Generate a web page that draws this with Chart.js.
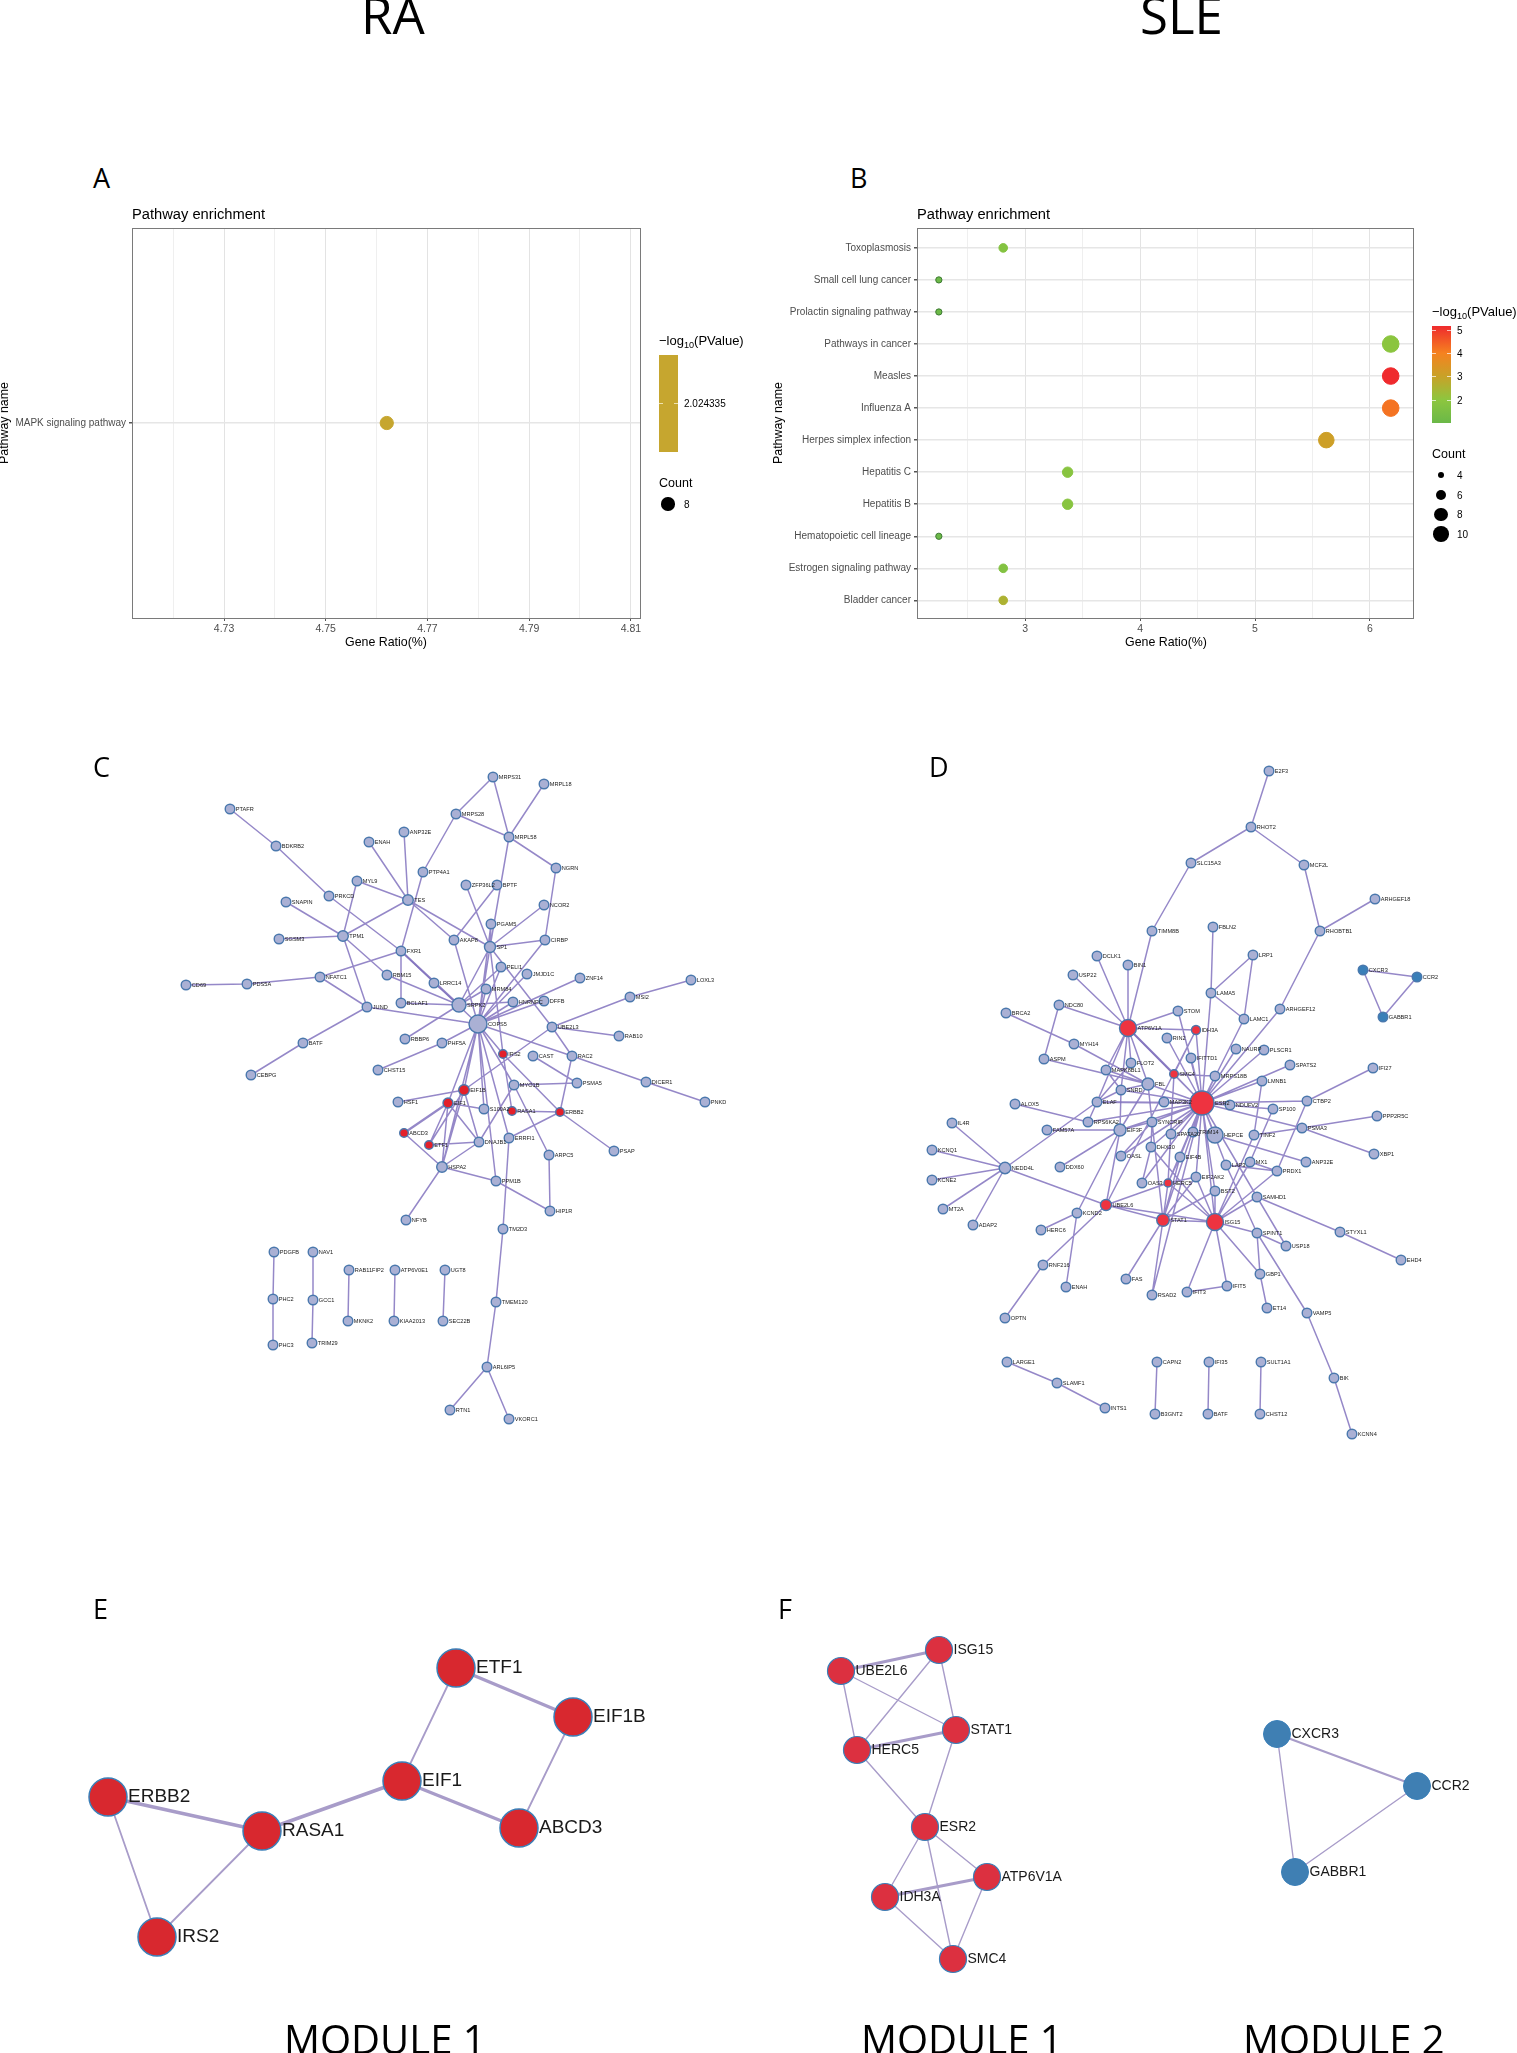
<!DOCTYPE html>
<html>
<head>
<meta charset="utf-8">
<title>RA / SLE</title>
<script src="https://cdn.jsdelivr.net/npm/chart.js@4/dist/chart.umd.min.js"></script>
<style>
  html, body { margin: 0; padding: 0; background: #fff; }
  #page { position: relative; width: 1517px; height: 2053px; overflow: hidden; font-family: "Liberation Sans", Arial, sans-serif; }
  #page canvas { position: absolute; }
  .txt { position: absolute; white-space: nowrap; transform: translateY(-50%); color: #000; }
  .big { font-family: "Open Sans", sans-serif; }
  sub { font-size: 70%; line-height: 0; }
</style>
</head>
<body>
<div id="page">
  <canvas id="chartA" width="660" height="470" style="left:0;top:200px"></canvas>
  <canvas id="chartB" width="740" height="470" style="left:700px;top:200px"></canvas>
  <canvas id="network" width="1517" height="1333" style="left:0;top:720px"></canvas>
</div>
<script>
// ---------- panel A ----------
const aPathways = ['MAPK signaling pathway'];
const aRatio = [4.762];
const aCount = [8];
const aLogP = [2.024335];
const aXTicks = [4.72, 4.73, 4.74, 4.75, 4.76, 4.77, 4.78, 4.79, 4.80, 4.81];
const aXLabels = [4.73, 4.75, 4.77, 4.79, 4.81];

// ---------- panel B ----------
const bPathways = ['Bladder cancer', 'Estrogen signaling pathway', 'Hematopoietic cell lineage', 'Hepatitis B', 'Hepatitis C',
  'Herpes simplex infection', 'Influenza A', 'Measles', 'Pathways in cancer', 'Prolactin signaling pathway',
  'Small cell lung cancer', 'Toxoplasmosis'];
const bRatio = [2.81, 2.81, 2.25, 3.37, 3.37, 5.62, 6.18, 6.18, 6.18, 2.25, 2.25, 2.81];
const bCount = [5, 5, 4, 6, 6, 10, 11, 11, 11, 4, 4, 5];
const bLogP = [2.55, 1.7, 1.05, 1.85, 1.85, 3.1, 4.2, 5.17, 1.95, 1.05, 1.05, 1.75];
const bXTicks = [2.5, 3, 3.5, 4, 4.5, 5, 5.5, 6];
const bXLabels = [3, 4, 5, 6];
const bLegendTicks = [5, 4, 3, 2];
const bLegendCounts = [4, 6, 8, 10];

// ---------- network C (name, layout x, layout y) ----------
const cNodes = [
  ['MRPS31',493,777],['MRPL18',544,784],['PTAFR',230,809],['MRPS28',456,814],['ANP32E',404,832],['MRPL58',509,837],
  ['ENAH',369,842],['BDKRB2',276,846],['NGRN',556,868],['PTP4A1',423,872],['MYL9',357,881],['ZFP36L2',466,885],
  ['BPTF',497,885],['PRKCD',329,896],['TES',408,900],['SNAPIN',286,902],['NCOR2',544,905],['PGAM5',491,924],
  ['TPM1',343,936],['SGSM3',279,939],['AKAP8',454,940],['SP1',490,947],['CIRBP',545,940],['FXR1',401,951],
  ['PELI1',501,967],['JMJD1C',527,974],['RBM15',387,975],['NFATC1',320,977],['LRRC14',434,983],['CD69',186,985],
  ['PDS5A',247,984],['MRM84',486,989],['BCLAF1',401,1003],['SRPK2',459,1005],['HNRNPC',513,1002],['DFFB',544,1001],
  ['JUND',367,1007],['COPS5',478,1024],['UBE2L3',552,1027],['RBBP6',405,1039],['PHF5A',442,1043],['BATF',303,1043],
  ['IRS2',503,1054],['CAST',533,1056],['CHST15',378,1070],['CEBPG',251,1075],['ZNF14',580,978],['LOXL3',691,980],
  ['MSI2',630,997],['RAB10',619,1036],['RAC2',572,1056],['MYO1B',514,1085],['PSMA5',577,1083],['DICER1',646,1082],
  ['EIF1B',464,1090],['HSF1',398,1102],['PNKD',705,1102],['EIF1',448,1103],['S100A2',484,1109],['RASA1',512,1111],
  ['ERBB2',560,1112],['ABCD3',404,1133],['ETF1',429,1145],['DNAJB1',479,1142],['ERRFI1',509,1138],['ARPC5',549,1155],
  ['PSAP',614,1151],['HSPA2',442,1167],['PPM1B',496,1181],['HIP1R',550,1211],['NFYB',406,1220],['TM2D3',503,1229],
  ['PDGFB',274,1252],['NAV1',313,1252],['RAB11FIP2',349,1270],['ATP6V0E1',395,1270],['UGT8',445,1270],['PHC2',273,1299],
  ['GCC1',313,1300],['TMEM120',496,1302],['MKNK2',348,1321],['KIAA2013',394,1321],['SEC22B',443,1321],['PHC3',273,1345],
  ['TRIM29',312,1343],['ARL6IP5',487,1367],['RTN1',450,1410],['VKORC1',509,1419]
];
const cEdges = ('MRPS31-MRPS28 MRPS31-MRPL58 MRPL18-MRPL58 MRPS28-MRPL58 MRPS28-PTP4A1 MRPL58-NGRN MRPL58-SP1 PTAFR-BDKRB2 ' +
  'BDKRB2-PRKCD PRKCD-FXR1 ANP32E-TES ENAH-TES MYL9-TES MYL9-TPM1 PTP4A1-FXR1 TES-TPM1 TES-AKAP8 TES-SP1 SNAPIN-TPM1 SGSM3-TPM1 ' +
  'TPM1-RBM15 TPM1-JUND RBM15-SRPK2 FXR1-NFATC1 FXR1-BCLAF1 FXR1-SRPK2 FXR1-COPS5 LRRC14-SRPK2 NFATC1-PDS5A PDS5A-CD69 NFATC1-JUND ' +
  'JUND-COPS5 JUND-BATF BATF-CEBPG BCLAF1-SRPK2 SRPK2-RBBP6 ZFP36L2-SP1 BPTF-AKAP8 NCOR2-SP1 NGRN-CIRBP PGAM5-SP1 PGAM5-COPS5 SP1-CIRBP ' +
  'SP1-SRPK2 SP1-COPS5 AKAP8-COPS5 CIRBP-COPS5 PELI1-SRPK2 PELI1-COPS5 JMJD1C-COPS5 MRM84-SRPK2 MRM84-COPS5 HNRNPC-SRPK2 HNRNPC-COPS5 ' +
  'DFFB-COPS5 SP1-UBE2L3 COPS5-ZNF14 MSI2-LOXL3 MSI2-UBE2L3 UBE2L3-RAB10 UBE2L3-RAC2 UBE2L3-EIF1B COPS5-RAC2 RAC2-ERBB2 RAC2-DICER1 DICER1-PNKD ' +
  'CAST-PSMA5 MYO1B-PSMA5 IRS2-COPS5 SP1-IRS2 IRS2-RASA1 IRS2-ERBB2 COPS5-EIF1B COPS5-EIF1 COPS5-HSPA2 COPS5-S100A2 COPS5-ERRFI1 COPS5-PPM1B ' +
  'COPS5-MYO1B MYO1B-ARPC5 MYO1B-DNAJB1 RASA1-ERBB2 ERBB2-ERRFI1 ERBB2-PSAP ERRFI1-TM2D3 TM2D3-TMEM120 TMEM120-ARL6IP5 ARL6IP5-RTN1 ARL6IP5-VKORC1 ' +
  'ARPC5-HIP1R HSPA2-PPM1B PPM1B-HIP1R HSPA2-NFYB HSPA2-DNAJB1 HSPA2-ABCD3 HSPA2-EIF1 EIF1-ABCD3 EIF1-ETF1 EIF1-S100A2 EIF1-DNAJB1 EIF1B-ETF1 ' +
  'EIF1B-HSF1 EIF1B-DNAJB1 ETF1-DNAJB1 EIF1B-HSPA2 CHST15-PHF5A PHF5A-COPS5 PDGFB-PHC2 PHC2-PHC3 NAV1-GCC1 GCC1-TRIM29 RAB11FIP2-MKNK2 ' +
  'ATP6V0E1-KIAA2013 UGT8-SEC22B').split(' ');
const cThick = ['FXR1-SRPK2', 'EIF1-ABCD3'];
const cRed = ['IRS2', 'EIF1B', 'EIF1', 'RASA1', 'ERBB2', 'ABCD3', 'ETF1'];
const cSizes = { COPS5: 9, SRPK2: 7, HSPA2: 5.3, TES: 5.3, TPM1: 5.3, SP1: 5.5, EIF1B: 5.3, EIF1: 5, IRS2: 4.3, ERBB2: 4.3, RASA1: 4.3, ABCD3: 4.3, ETF1: 4.3 };

// ---------- network D ----------
const dNodes = [
  ['SLC15A3',1191,863],['TIMM8B',1152,931],['FBLN2',1213,927],['DCLK1',1097,956],['BIN1',1128,965],['USP22',1073,975],
  ['LAMA5',1211,993],['NDC80',1059,1005],['BRCA2',1006,1013],['STOM',1178,1011],['ATP6V1A',1128,1028],['IDH3A',1196,1030],
  ['RIN2',1167,1038],['MYH14',1074,1044],['E2F3',1269,771],['RHOT2',1251,827],['MCF2L',1304,865],['ARHGEF18',1375,899],
  ['RHOBTB1',1320,931],['LRP1',1253,955],['CXCR3',1363,970],['CCR2',1417,977],['LAMC1',1244,1019],['ARHGEF12',1280,1009],
  ['GABBR1',1383,1017],['NAURP',1236,1049],['PLSCR1',1264,1050],['ASPM',1044,1059],['FLOT2',1131,1063],['IFITTD1',1191,1058],
  ['MAPK8BL1',1106,1070],['SMC4',1174,1074],['FBL',1148,1084],['SNRD',1121,1090],['ESR2',1202,1103],['ALOX5',1015,1104],
  ['ELAF',1097,1102],['MAP3K2',1164,1102],['RPS6KA2',1088,1122],['SYNCRIP',1152,1122],['IL4R',952,1123],['FAM57A',1047,1130],
  ['EIF3F',1120,1130],['SPATA20',1171,1134],['TRIM14',1193,1132],['HEPCE',1215,1135],['DHX30',1151,1147],['KCNQ1',932,1150],
  ['OASL',1121,1156],['EIF4B',1180,1157],['DDX60',1060,1167],['NEDD4L',1005,1168],['EIF2AK2',1196,1177],['KCNE2',932,1180],
  ['OAS3',1142,1183],['HERC5',1168,1183],['BST2',1215,1191],['UBE2L6',1106,1205],['MT2A',943,1209],['KCND2',1077,1213],
  ['STAT1',1163,1220],['ISG15',1215,1222],['ADAP2',973,1225],['HERC6',1041,1230],['RNF216',1043,1265],['FAS',1126,1279],
  ['ENAH',1066,1287],['RSAD2',1152,1295],['IFIT3',1187,1292],['OPTN',1005,1318],['IFI27',1373,1068],['SPATS2',1290,1065],
  ['MRPS18B',1215,1076],['LMNB1',1262,1081],['CTBP2',1307,1101],['NDUFV2',1230,1105],['SP100',1273,1109],['PPP2R5C',1377,1116],
  ['PSMA3',1302,1128],['TINF2',1254,1135],['XBP1',1374,1154],['ANP32E',1306,1162],['MX1',1250,1162],['LAP3',1226,1165],
  ['PRDX1',1277,1171],['SAMHD1',1257,1197],['STYXL1',1340,1232],['SPINT1',1257,1233],['USP18',1286,1246],['EHD4',1401,1260],
  ['GBP1',1260,1274],['IFIT5',1227,1286],['ET14',1267,1308],['VAMP5',1307,1313],['BIK',1334,1378],['KCNN4',1352,1434],
  ['LARGE1',1007,1362],['SLAMF1',1057,1383],['INTS1',1105,1408],['CAPN2',1157,1362],['B3GNT2',1155,1414],['IFI35',1209,1362],
  ['BATF',1208,1414],['SULT1A1',1261,1362],['CHST12',1260,1414]
];
const dEdges = ('E2F3-RHOT2 RHOT2-SLC15A3 RHOT2-MCF2L SLC15A3-TIMM8B TIMM8B-ATP6V1A MCF2L-RHOBTB1 RHOBTB1-ARHGEF18 RHOBTB1-ARHGEF12 ARHGEF12-ESR2 ' +
  'FBLN2-LAMA5 LAMA5-LRP1 LRP1-LAMC1 LAMA5-LAMC1 LAMA5-ESR2 LAMC1-ESR2 CXCR3-CCR2 CCR2-GABBR1 CXCR3-GABBR1 DCLK1-ATP6V1A BIN1-ATP6V1A USP22-ATP6V1A ' +
  'NDC80-ATP6V1A NDC80-ASPM BRCA2-MYH14 MYH14-FBL ASPM-FBL STOM-ATP6V1A STOM-ESR2 ATP6V1A-IDH3A ATP6V1A-ESR2 ATP6V1A-SMC4 RIN2-ESR2 IDH3A-ESR2 IDH3A-SMC4 ' +
  'IFITTD1-ESR2 SMC4-ESR2 ATP6V1A-FLOT2 ATP6V1A-MAPK8BL1 ATP6V1A-FBL ATP6V1A-SNRD ATP6V1A-ELAF FBL-ESR2 FBL-SNRD MAPK8BL1-SNRD MAPK8BL1-FBL ELAF-ESR2 ' +
  'ELAF-RPS6KA2 ELAF-NEDD4L FLOT2-ELAF SNRD-EIF3F SNRD-ESR2 ALOX5-RPS6KA2 RPS6KA2-ESR2 FAM57A-EIF3F EIF3F-DDX60 EIF3F-ESR2 EIF3F-SYNCRIP EIF3F-UBE2L6 ' +
  'EIF3F-KCND2 KCND2-HERC6 KCND2-ENAH UBE2L6-RNF216 RNF216-OPTN NEDD4L-UBE2L6 NEDD4L-IL4R NEDD4L-KCNQ1 NEDD4L-KCNE2 NEDD4L-MT2A NEDD4L-ADAP2 UBE2L6-STAT1 ' +
  'UBE2L6-ISG15 UBE2L6-HERC5 HERC5-STAT1 HERC5-ISG15 STAT1-ISG15 STAT1-ESR2 ISG15-ESR2 HERC5-ESR2 OAS3-ESR2 STAT1-FAS STAT1-RSAD2 ISG15-IFIT3 ISG15-IFIT5 ' +
  'IFIT3-IFIT5 ISG15-GBP1 ISG15-SPINT1 GBP1-ET14 SPINT1-GBP1 SPINT1-USP18 SPINT1-VAMP5 SPINT1-LAP3 VAMP5-BIK BIK-KCNN4 SAMHD1-STYXL1 STYXL1-EHD4 ' +
  'SAMHD1-USP18 SAMHD1-ESR2 PRDX1-CTBP2 CTBP2-IFI27 CTBP2-ESR2 PSMA3-PPP2R5C PSMA3-XBP1 PSMA3-ESR2 PSMA3-TINF2 TINF2-LMNB1 SPATS2-ESR2 LMNB1-ESR2 SP100-ESR2 ' +
  'SP100-MX1 NDUFV2-ESR2 MRPS18B-ESR2 MRPS18B-SMC4 NAURP-ESR2 PLSCR1-ESR2 ANP32E-HEPCE HEPCE-ESR2 TRIM14-ESR2 MX1-ISG15 LAP3-PRDX1 MX1-PRDX1 PRDX1-ISG15 ' +
  'SAMHD1-ISG15 BST2-ISG15 BST2-ESR2 BST2-STAT1 EIF2AK2-ISG15 EIF2AK2-ESR2 EIF2AK2-HERC5 EIF2AK2-STAT1 DHX30-ESR2 DHX30-OAS3 OASL-ESR2 OASL-SYNCRIP ' +
  'SYNCRIP-ESR2 SPATA20-ESR2 EIF4B-ESR2 EIF4B-STAT1 EIF4B-HERC5 LAP3-ESR2 TINF2-ISG15 SYNCRIP-DHX30 SYNCRIP-STAT1 FBL-SYNCRIP SMC4-HERC5 IDH3A-UBE2L6 ' +
  'ESR2-RSAD2 EIF3F-FBL DHX30-ISG15 ELAF-SNRD LARGE1-SLAMF1 SLAMF1-INTS1 CAPN2-B3GNT2 IFI35-BATF SULT1A1-CHST12').split(' ');
const dThick = ['ATP6V1A-SMC4', 'ELAF-ESR2'];
const dRed = ['ATP6V1A', 'IDH3A', 'SMC4', 'ESR2', 'HERC5', 'UBE2L6', 'STAT1', 'ISG15'];
const dBlue = ['CXCR3', 'CCR2', 'GABBR1'];
const dSizes = { ESR2: 12, HEPCE: 8, ATP6V1A: 8.5, ISG15: 8.5, STAT1: 6.3, NEDD4L: 5.8, EIF3F: 6, FBL: 6, UBE2L6: 5.5, HERC5: 4, SMC4: 4.3, IDH3A: 4.5 };

// ---------- networks E and F ----------
const eNodes = [['ETF1',456,1668],['EIF1B',573,1717],['EIF1',402,1781],['ABCD3',519,1828],['ERBB2',108,1797],['RASA1',262,1831],['IRS2',157,1937]];
const eEdges = ['ETF1-EIF1B','ETF1-EIF1','EIF1B-ABCD3','EIF1-ABCD3','EIF1-RASA1','ERBB2-RASA1','ERBB2-IRS2','RASA1-IRS2'];
const eThick = ['ETF1-EIF1B','EIF1-ABCD3','EIF1-RASA1','ERBB2-RASA1'];
const fNodes = [['ISG15',939,1650],['UBE2L6',841,1671],['STAT1',956,1730],['HERC5',857,1750],['ESR2',925,1827],['ATP6V1A',987,1877],['IDH3A',885,1897],['SMC4',953,1959]];
const fEdges = ['UBE2L6-ISG15','UBE2L6-STAT1','UBE2L6-HERC5','ISG15-STAT1','ISG15-HERC5','HERC5-STAT1','HERC5-ESR2','STAT1-ESR2','ESR2-ATP6V1A','ESR2-IDH3A','ESR2-SMC4','IDH3A-ATP6V1A','IDH3A-SMC4','ATP6V1A-SMC4'];
const fThick = ['UBE2L6-ISG15','HERC5-STAT1','IDH3A-ATP6V1A'];
const f2Nodes = [['CXCR3',1277,1734],['CCR2',1417,1786],['GABBR1',1295,1872]];
const f2Edges = ['CXCR3-CCR2','CXCR3-GABBR1','CCR2-GABBR1'];
const f2Thick = ['CXCR3-CCR2'];

// colour ramp of the -log10(P) legend
const ramp = [[1.0, [106,184,72]], [2.0, [141,198,63]], [3.0, [200,162,40]], [4.0, [245,130,32]], [5.17, [239,42,45]]];
function logPColor(v) {
  for (let i = 1; i < ramp.length; i++) {
    if (v <= ramp[i][0]) {
      const t = (v - ramp[i-1][0]) / (ramp[i][0] - ramp[i-1][0]);
      const c = ramp[i-1][1].map((a, k) => Math.round(a + (ramp[i][1][k] - a) * Math.max(t, 0)));
      return `rgb(${c[0]},${c[1]},${c[2]})`;
    }
  }
  return 'rgb(239,42,45)';
}
const countRadius = c => Math.sqrt(8 * c - 24) + 0.3;

const page = document.getElementById('page');
function addText(html, x, y, size, extra) {
  const d = document.createElement('div');
  d.className = 'txt';
  d.innerHTML = html;
  d.style.cssText = `left:${x}px;top:${y}px;font-size:${size}px;${extra || ''}`;
  page.appendChild(d);
  return d;
}
function addBox(x, y, w, h, css) {
  const d = document.createElement('div');
  d.style.cssText = `position:absolute;left:${x}px;top:${y}px;width:${w}px;height:${h}px;${css}`;
  page.appendChild(d);
}

const frame = {
  id: 'frame',
  afterDatasetsDraw(chart) {
    const a = chart.chartArea, c = chart.ctx;
    c.save();
    c.strokeStyle = '#7a7a7a';
    c.lineWidth = 1;
    c.strokeRect(a.left + .5, a.top + .5, a.right - a.left, a.bottom - a.top);
    c.restore();
  }
};

function dotChart(id, names, ratio, count, logp, xMin, xMax, xTicks, xLabels, yMin, yMax, leftW, rightPad, pointColor) {
  new Chart(document.getElementById(id), {
    type: 'scatter',
    data: {
      datasets: [{
        data: ratio.map((r, i) => ({ x: r, y: i })),
        pointRadius: c => countRadius(count[c.dataIndex]),
        pointBackgroundColor: c => pointColor(logp[c.dataIndex]),
        pointBorderColor: c => count[c.dataIndex] <= 4 ? '#3d7a33' : pointColor(logp[c.dataIndex]),
        pointBorderWidth: 1
      }]
    },
    options: {
      responsive: false,
      animation: false,
      layout: { autoPadding: false, padding: { top: 28, right: rightPad } },
      plugins: { legend: { display: false }, tooltip: { enabled: false } },
      scales: {
        x: {
          type: 'linear', min: xMin, max: xMax,
          afterFit: s => { s.height = 52; },
          afterBuildTicks: s => { s.ticks = xTicks.map(v => ({ value: v })); },
          border: { display: false },
          grid: {
            color: c => c.tick && xLabels.includes(c.tick.value) ? '#e3e3e3' : '#efefef',
            tickLength: 3,
            tickColor: c => c.tick && xLabels.includes(c.tick.value) ? '#555' : 'rgba(0,0,0,0)'
          },
          ticks: {
            autoSkip: false, maxRotation: 0, padding: 2, color: '#4d4d4d',
            font: { size: 10.5, family: 'Liberation Sans' },
            callback: v => xLabels.includes(v) ? String(v) : ''
          }
        },
        y: {
          type: 'linear', min: yMin, max: yMax,
          afterFit: s => { s.width = leftW; },
          afterBuildTicks: s => { s.ticks = names.map((_, i) => ({ value: i })); },
          border: { display: false },
          grid: { color: '#e6e6e6', lineWidth: 1.5, tickLength: 3, tickColor: '#555' },
          ticks: {
            autoSkip: false, padding: 3, color: '#4d4d4d',
            font: { size: 10, family: 'Liberation Sans' },
            callback: v => names[v]
          }
        }
      }
    },
    plugins: [frame]
  });
}

dotChart('chartA', aPathways, aRatio, aCount, aLogP, 4.7119, 4.8118, aXTicks, aXLabels, -1, 1, 132, 20, () => '#c6a62f');
dotChart('chartB', bPathways, bRatio, bCount, bLogP, 2.06, 6.374, bXTicks, bXLabels, -0.55, 11.62, 217, 27, logPColor);

// ---------- network chart ----------
function edgePoints(nodes, edges) {
  const pos = {};
  nodes.forEach(n => { pos[n[0]] = n; });
  const pts = [];
  edges.forEach(e => {
    const [a, b] = e.split('-');
    if (!pos[a] || !pos[b]) throw new Error('missing node in edge ' + e);
    pts.push({ x: pos[a][1], y: pos[a][2] }, { x: pos[b][1], y: pos[b][2] }, { x: NaN, y: NaN });
  });
  return pts;
}

function panelDatasets(nodes, edges, thick, o) {
  const base = { type: 'scatter', showLine: true, spanGaps: false, pointRadius: 0, tension: 0, order: 2, clip: false };
  const thin = edges.filter(e => !thick.includes(e));
  const fat = edges.filter(e => thick.includes(e));
  return [
    Object.assign({}, base, { data: edgePoints(nodes, thin), borderColor: o.edge, borderWidth: o.thin }),
    Object.assign({}, base, { data: edgePoints(nodes, fat), borderColor: o.edge, borderWidth: o.fat }),
    {
      type: 'scatter', order: 1, clip: false,
      data: nodes.map(n => ({ x: n[1], y: n[2] })),
      names: nodes.map(n => n[0]),
      labelFont: o.font,
      pointRadius: c => (o.sizes && o.sizes[nodes[c.dataIndex][0]]) || o.radius,
      pointBackgroundColor: c => o.fill(nodes[c.dataIndex][0]),
      pointBorderColor: c => o.stroke,
      pointBorderWidth: o.strokeW
    }
  ];
}

const nodeLabels = {
  id: 'nodeLabels',
  afterDatasetsDraw(chart) {
    const c = chart.ctx;
    c.save();
    c.textBaseline = 'middle';
    c.fillStyle = '#1a1a1a';
    chart.data.datasets.forEach((ds, i) => {
      if (!ds.names) return;
      c.font = ds.labelFont;
      chart.getDatasetMeta(i).data.forEach((pt, k) => {
        c.fillText(ds.names[k], pt.x + pt.options.radius + 1, pt.y);
      });
    });
    c.restore();
  }
};

const smallFont = '5.6px "Liberation Sans"';
const lineCol = 'rgba(130,115,190,0.85)';
const pick = (red, blue, redCol) => n => red.includes(n) ? redCol : blue.includes(n) ? '#3a7fb8' : '#aab0d4';
const netDatasets = [].concat(
  panelDatasets(cNodes, cEdges, cThick, { edge: lineCol, thin: 1.5, fat: 2.2, font: smallFont, sizes: cSizes, radius: 4.8, fill: pick(cRed, [], '#e3202a'), stroke: '#4a78ad', strokeW: 1.4 }),
  panelDatasets(dNodes, dEdges, dThick, { edge: lineCol, thin: 1.5, fat: 2.2, font: smallFont, sizes: dSizes, radius: 4.8, fill: pick(dRed, dBlue, '#ee3340'), stroke: '#4a78ad', strokeW: 1.4 }),
  panelDatasets(eNodes, eEdges, eThick, { edge: '#a89cc9', thin: 1.8, fat: 3.5, font: '19px "Liberation Sans"', radius: 19, fill: () => '#d8282f', stroke: '#3a7fb8', strokeW: 1.5 }),
  panelDatasets(fNodes, fEdges, fThick, { edge: '#a89cc9', thin: 1.4, fat: 3, font: '14px "Liberation Sans"', radius: 13.5, fill: () => '#dc3040', stroke: '#3a7fb8', strokeW: 1.2 }),
  panelDatasets(f2Nodes, f2Edges, f2Thick, { edge: '#a89cc9', thin: 1.4, fat: 2.4, font: '14px "Liberation Sans"', radius: 13.5, fill: () => '#3f7fb3', stroke: '#3a7fb8', strokeW: 1 })
);

new Chart(document.getElementById('network'), {
  type: 'scatter',
  data: { datasets: netDatasets },
  options: {
    responsive: false,
    animation: false,
    layout: { autoPadding: false, padding: 0 },
    plugins: { legend: { display: false }, tooltip: { enabled: false } },
    scales: {
      x: { type: 'linear', display: false, min: 0, max: 1517 },
      y: { type: 'linear', display: false, min: 720, max: 2053, reverse: true }
    }
  },
  plugins: [nodeLabels]
});

// ---------- text and legends ----------
addText('RA', 361, 14, 51, '').classList.add('big');
addText('SLE', 1140, 14, 51, '').classList.add('big');
[['A', 93, 177], ['B', 850, 177], ['C', 93, 766], ['D', 929, 766], ['E', 93, 1608], ['F', 778, 1608]].forEach(t => {
  addText(t[0], t[1], t[2], 27, '').classList.add('big');
});
[['MODULE 1', 284, 2038], ['MODULE 1', 861, 2038], ['MODULE 2', 1243, 2038]].forEach(t => {
  addText(t[0], t[1], t[2], 40, '').classList.add('big');
});
addText('Pathway enrichment', 132, 214, 14.7);
addText('Pathway enrichment', 917, 214, 14.7);
addText('Gene Ratio(%)', 345, 642, 12.4);
addText('Gene Ratio(%)', 1125, 642, 12.4);
addText('Pathway name', 4, 423, 12.4, 'transform:translate(-50%,-50%) rotate(-90deg);');
addText('Pathway name', 778, 423, 12.4, 'transform:translate(-50%,-50%) rotate(-90deg);');

// legend A
addText('−log<sub>10</sub>(PValue)', 659, 340, 13);
addBox(659, 355, 19, 97, 'background:#c6a62f');
addBox(659, 403, 4, 1, 'background:#efe3b0');
addBox(674, 403, 4, 1, 'background:#efe3b0');
addText('2.024335', 684, 403, 10);
addText('Count', 659, 483, 12.5);
addBox(668 - countRadius(8), 504 - countRadius(8), 2 * countRadius(8), 2 * countRadius(8), 'background:#000;border-radius:50%');
addText('8', 684, 504, 10);

// legend B
const stops = ramp.map(s => `rgb(${s[1].join(',')}) ${((s[0] - 1) / 4.17 * 100).toFixed(1)}%`).join(',');
addText('−log<sub>10</sub>(PValue)', 1432, 311, 13);
addBox(1432, 326, 19, 97, `background:linear-gradient(to top,${stops})`);
bLegendTicks.forEach(v => {
  const y = 423 - (v - 1) * 23.26;
  addBox(1432, y, 4, 1, 'background:rgba(255,255,255,.7)');
  addBox(1447, y, 4, 1, 'background:rgba(255,255,255,.7)');
  addText(String(v), 1457, y, 10);
});
addText('Count', 1432, 454, 12.5);
bLegendCounts.forEach((v, i) => {
  const y = 475 + i * 19.7, r = countRadius(v);
  addBox(1441 - r, y - r, 2 * r, 2 * r, 'background:#000;border-radius:50%');
  addText(String(v), 1457, y, 10);
});
</script>
</body>
</html>
